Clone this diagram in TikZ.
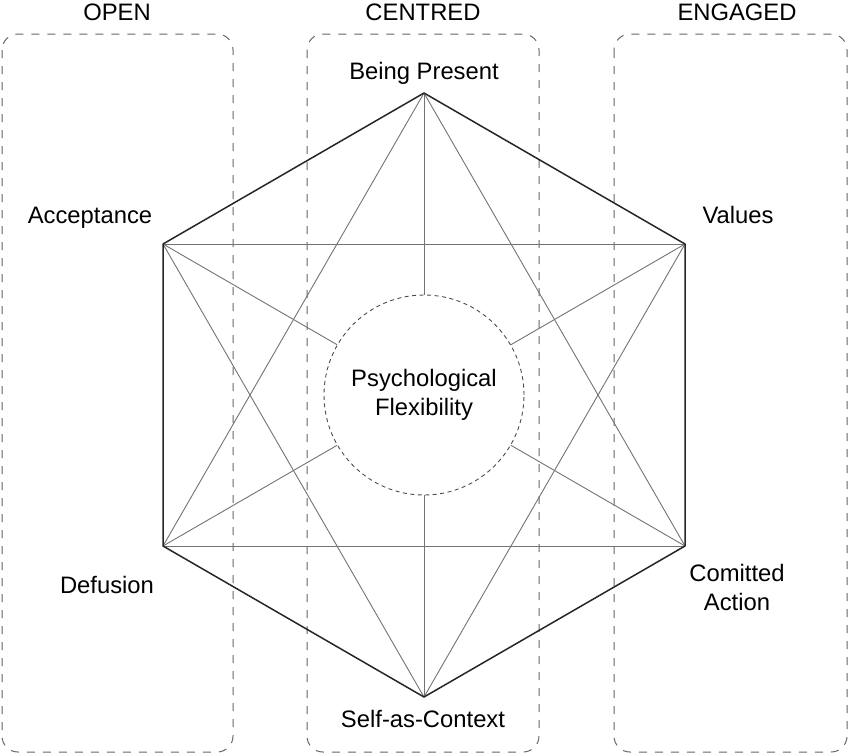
\documentclass[tikz,border=0pt]{standalone}
\usepackage{fontspec}
\setmainfont{Liberation Sans}
\usetikzlibrary{calc}

\tikzset{
	zonebox/.style={draw=black!60, line width=1pt, dash pattern=on 8pt off 8pt, rounded corners=16pt},
	hexedge/.style={draw=black!85, line width=1.5pt, line join=round},
	crossline/.style={draw=black!55, line width=0.9pt},
	core/.style={circle, draw=black!70, line width=0.9pt, dash pattern=on 4pt off 3.5pt, minimum size=200pt, inner sep=0pt, align=center},
	heading/.style={anchor=base},
	facet/.style={anchor=base, align=center}
}

\begin{document}
\begin{tikzpicture}[x=1pt, y=-1pt, font=\fontsize{23.8}{29}\selectfont]
				%%%%% START %%%%%
				\useasboundingbox (0,0) rectangle (850,755);
				
				% the three columns
				\draw[zonebox] (2,34) rectangle (233,752);
				\draw[zonebox] (307,34) rectangle (539,752);
				\draw[zonebox] (614,34) rectangle (847,752);
				
				\node[heading] (open) at (117,20) {OPEN};
				\node[heading] (centred) at (423,20) {CENTRED};
				\node[heading] (engaged) at (737,20) {ENGAGED};
				
				% corners of the hexaflex
				\coordinate (present) at (424,93);
				\coordinate (values) at (685,244);
				\coordinate (action) at (685,546);
				\coordinate (self) at (424,697);
				\coordinate (defusion) at (163,546);
				\coordinate (accept) at (163,244);
				
				\node[core] (flex) at (424,395) {Psychological\\Flexibility};
				
				% short diagonals
				\draw[crossline] (accept) -- (values);
				\draw[crossline] (defusion) -- (action);
				\draw[crossline] (present) -- (defusion);
				\draw[crossline] (present) -- (action);
				\draw[crossline] (self) -- (accept);
				\draw[crossline] (self) -- (values);
				
				% spokes into the centre
				\draw[crossline] (present) -- (flex);
				\draw[crossline] (self) -- (flex);
				\draw[crossline] (accept) -- (flex);
				\draw[crossline] (values) -- (flex);
				\draw[crossline] (defusion) -- (flex);
				\draw[crossline] (action) -- (flex);
				
				\draw[hexedge] (present) -- (values) -- (action) -- (self) -- (defusion) -- (accept) -- cycle;
				
				% labels
				\node[facet] (presentlbl) at (424,79) {Being Present};
				\node[facet] (acceptlbl) at (90,223) {Acceptance};
				\node[facet] (valueslbl) at (738,223) {Values};
				\node[facet] (defusionlbl) at (107,593) {Defusion};
				\node[anchor=center, align=center] (actionlbl) at (737,587) {Comitted\\Action};
				\node[facet] (selflbl) at (423,727) {Self-as-Context};
				%%%%% END %%%%%
\end{tikzpicture}
\end{document}
